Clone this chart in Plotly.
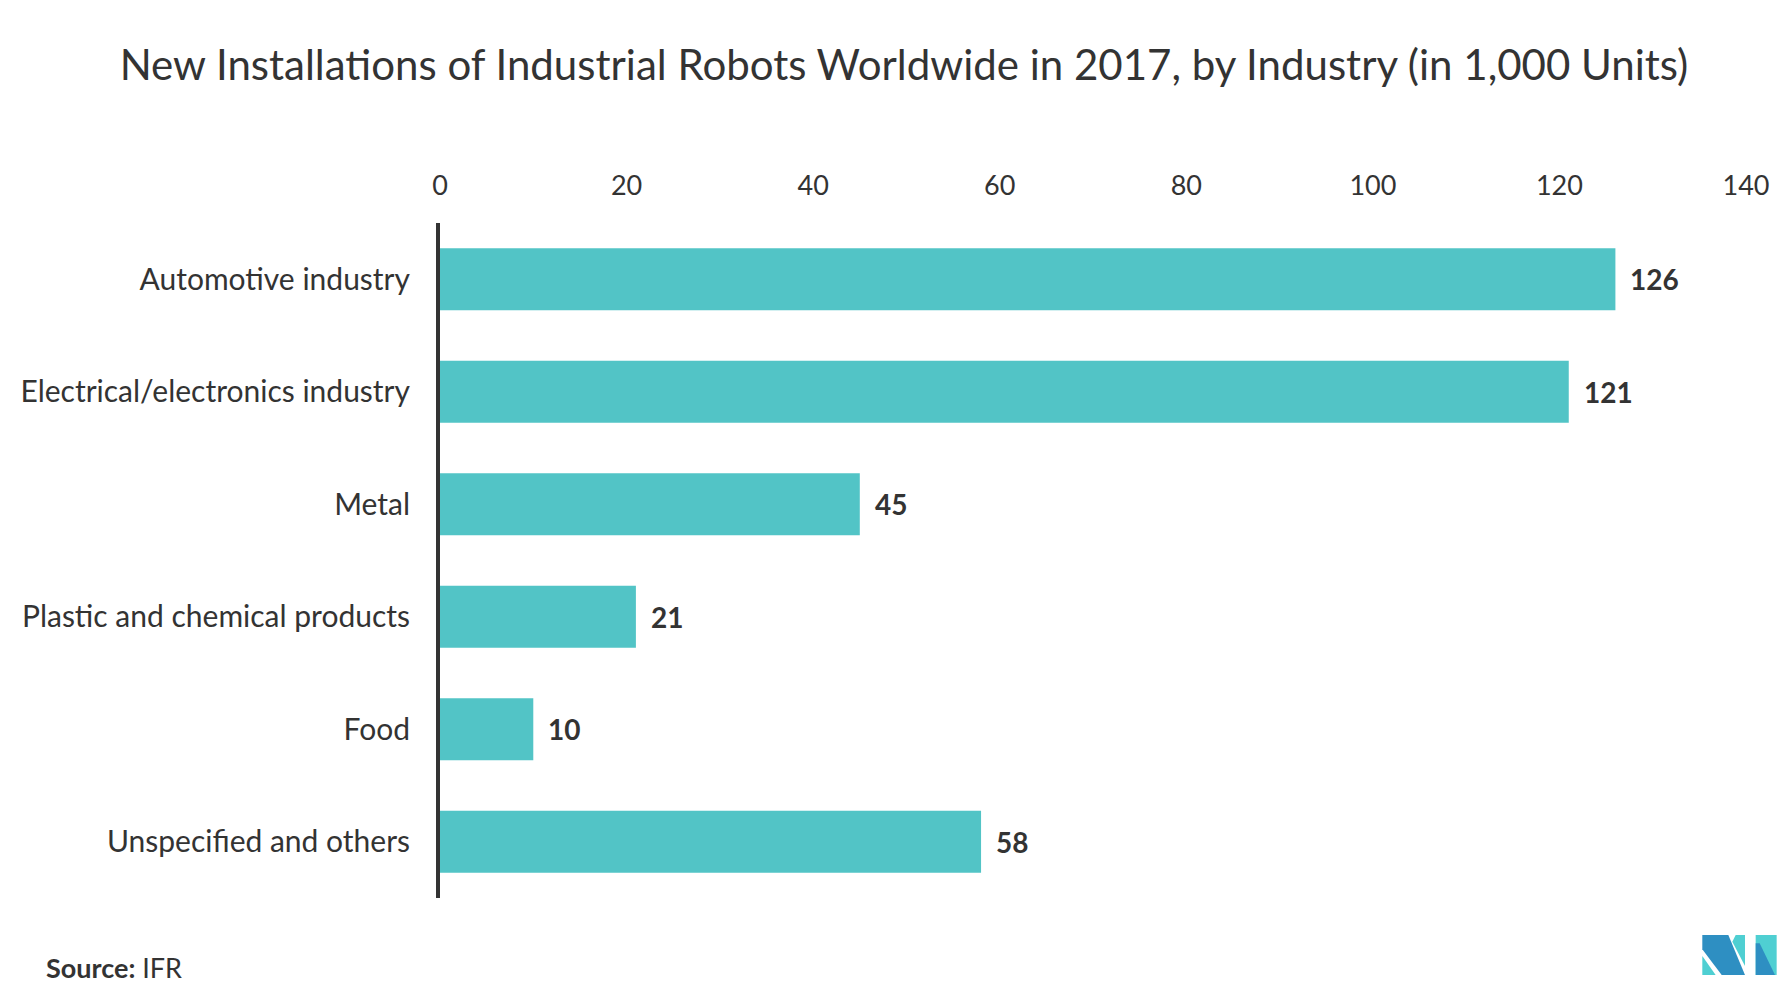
import plotly.graph_objects as go

categories = ["Automotive industry", "Electrical/electronics industry", "Metal",
              "Plastic and chemical products", "Food", "Unspecified and others"]
values = [126, 121, 45, 21, 10, 58]
x_ticks = [0, 20, 40, 60, 80, 100, 120, 140]

W, H = 1792, 1002
OFF = 8  # browser body margin
L, R, T, B = 440 - OFF, 46 + OFF, 223 - OFF, 104 + OFF
PW, PH = W - L - R, H - T - B

BAR = "#52C4C6"
TXT = "#333333"
FONT = "Lato, 'Noto Sans', sans-serif"

fig = go.Figure()
fig.add_trace(go.Bar(
    x=values, y=categories, orientation="h",
    marker=dict(color=BAR, line=dict(width=0)),
    hoverinfo="x+y",
))

for c, v in zip(categories, values):
    fig.add_annotation(x=v, y=c, text=f"<b>{v}</b>", showarrow=False,
                       xanchor="left", xshift=13,
                       font=dict(size=28, color=TXT, family=FONT))

def px(x, y):
    # page pixel coords -> paper coords
    return ((x - OFF - L) / PW, (H - B - (y - OFF)) / PH)

def path(pts):
    s = ""
    for i, (x, y) in enumerate(pts):
        xx, yy = px(1695 + x / 3, 930 + y / 3)
        s += ("M" if i == 0 else "L") + f"{xx:.5f},{yy:.5f} "
    return s + "Z"

DB, TL = "#2E8FC2", "#4FCFD2"
shapes = [
    dict(type="path", path=path([(22, 78), (22, 135), (62, 135)]), fillcolor=TL),
    dict(type="path", path=path([(22, 15), (100, 15), (150, 135), (80, 135), (22, 58)]), fillcolor=DB),
    dict(type="path", path=path([(122, 15), (150, 15), (150, 108), (112, 35)]), fillcolor=TL),
    dict(type="path", path=path([(182, 15), (245, 15), (245, 135), (182, 135)]), fillcolor=TL),
    dict(type="path", path=path([(182, 40), (194, 40), (240, 135), (182, 135)]), fillcolor=DB),
]
for s in shapes:
    s.update(xref="paper", yref="paper", line=dict(width=0), layer="above")

fig.update_layout(
    width=W, height=H,
    margin=dict(l=L, r=R, t=T, b=B),
    paper_bgcolor="white", plot_bgcolor="white",
    bargap=0.45,
    showlegend=False,
    font=dict(family=FONT, color=TXT),
    title=dict(text="New Installations of Industrial Robots Worldwide in 2017, by Industry (in 1,000 Units)",
               x=0.5, xanchor="center", xref="container", y=1 - (65 - OFF) / H, yanchor="middle",
               font=dict(size=42, color=TXT, family=FONT)),
    xaxis=dict(range=[0, 140], side="top", tickvals=x_ticks, showgrid=False,
               zeroline=False, showline=False, ticks="outside", ticklen=16,
               tickcolor="rgba(0,0,0,0)", tickfont=dict(size=27, color=TXT, family=FONT)),
    yaxis=dict(autorange="reversed", showgrid=False, zeroline=False,
               showline=True, linecolor=TXT, linewidth=4,
               ticks="outside", ticklen=20, tickcolor="rgba(0,0,0,0)",
               tickfont=dict(size=30, color=TXT, family=FONT)),
    shapes=shapes,
)
sx, sy = px(44, 967)
fig.add_annotation(xref="paper", yref="paper", x=sx, y=sy,
                   xanchor="left", yanchor="middle", showarrow=False,
                   text="<b>Source:</b> IFR", font=dict(size=27, color=TXT, family=FONT))

fig.write_html("out.html")
